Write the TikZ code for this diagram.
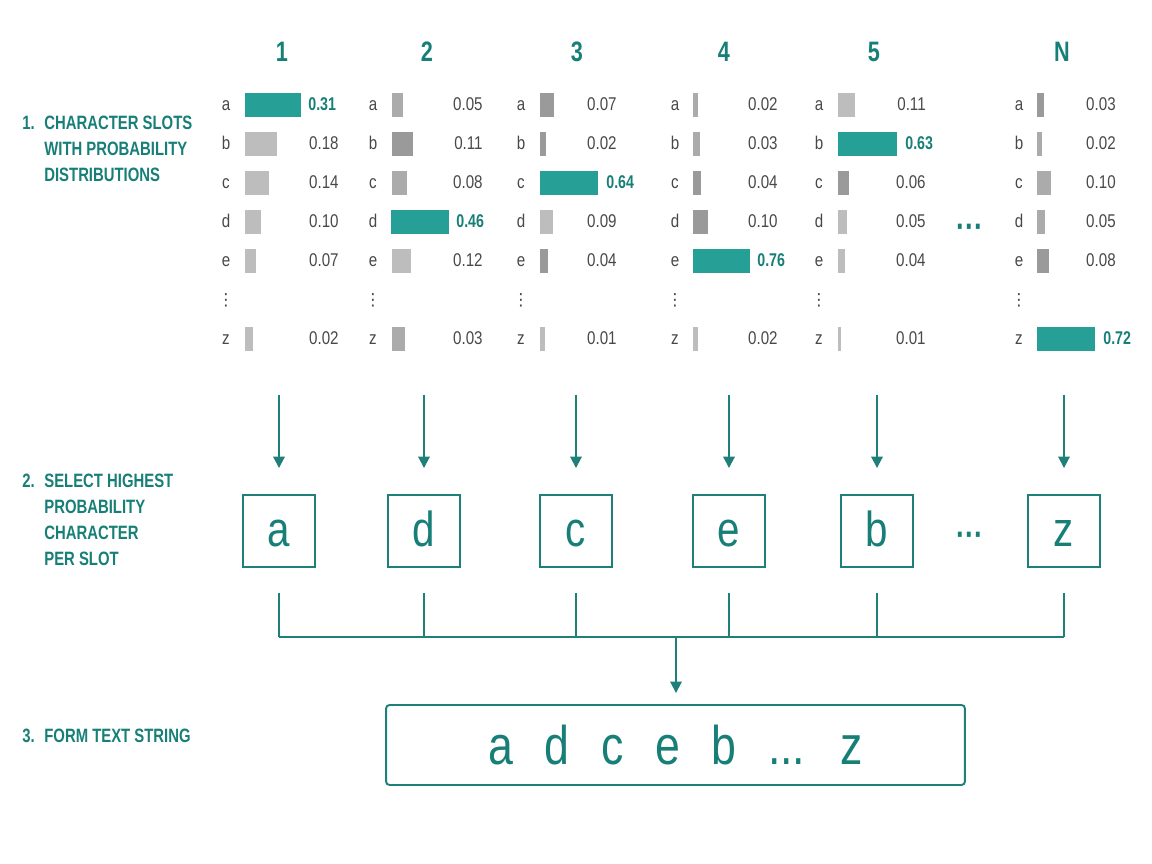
\documentclass[tikz,border=0pt]{standalone}
\usepackage{fontspec}
\setmainfont{Liberation Sans}[FakeStretch=0.82, BoldFeatures={FakeStretch=0.77}]
\newfontfamily\symfont{DejaVu Sans}
\usetikzlibrary{arrows.meta}

\definecolor{tealbar}{HTML}{26A096}
\definecolor{tealtext}{HTML}{177F77}
\definecolor{tealline}{HTML}{1E8079}
\definecolor{inkgrey}{HTML}{484848}
\definecolor{barlight}{HTML}{BDBDBD}
\definecolor{barmid}{HTML}{ABABAB}
\definecolor{bardark}{HTML}{9A9A9A}

\tikzset{
	stagelabel/.style = {anchor = north west, inner sep = 0pt, align = left, text = tealtext,
		font = \fontsize{11}{14.7}\selectfont\bfseries},
	slothead/.style = {text = tealtext, font = \fontsize{16}{18}\selectfont\bfseries},
	letter/.style = {text = inkgrey, inner sep = 0pt, text height = 6.8pt, text depth = 0pt,
		font = \fontsize{10.5}{12}\selectfont},
	prob/.style = {letter, anchor = east},
	best/.style = {letter, anchor = west, text = tealtext, font = \fontsize{10.5}{12}\selectfont\bfseries},
	skip/.style = {text = inkgrey, inner sep = 0pt, font = \fontsize{9.5}{10}\symfont},
	more/.style = {text = tealtext, inner sep = 0pt, font = \fontsize{20}{20}\selectfont\bfseries},
	pick/.style = {draw = tealline, line width = 1.1pt, minimum size = 1.44cm, inner sep = 0pt,
		text = tealtext, text height = 17.6pt, text depth = 0pt, font = \fontsize{28}{30}\selectfont},
	result/.style = {draw = tealline, line width = 1.1pt, rounded corners = 2pt, minimum width = 11.58cm,
		minimum height = 1.6cm, inner sep = 0pt, text = tealtext, text height = 22.7pt, text depth = 0pt,
		font = \fontsize{31}{33}\selectfont},
	flow/.style = {draw = tealline, line width = 1.1pt, -{Triangle[width = 6.5pt, length = 6.5pt]}},
	link/.style = {draw = tealline, line width = 1.1pt}
}

\begin{document}
\begin{tikzpicture}[x = 0.02cm, y = -0.02cm]
	\useasboundingbox (0, 0) rectangle (1152, 864);

	% stage labels
	\node [stagelabel] (n1) at (22, 116) {1.};
	\node [stagelabel] (s1) at (44, 116) {CHARACTER SLOTS\\WITH PROBABILITY\\DISTRIBUTIONS};
	\node [stagelabel] (n2) at (22, 474) {2.};
	\node [stagelabel] (s2) at (44, 474) {SELECT HIGHEST\\PROBABILITY\\CHARACTER\\PER SLOT};
	\node [stagelabel] (n3) at (22, 729) {3.};
	\node [stagelabel] (s3) at (44, 729) {FORM TEXT STRING};

	% slot numbers
	\node [slothead] (h1) at (282, 52) {1};
	\node [slothead] (h2) at (427, 52) {2};
	\node [slothead] (h3) at (577, 52) {3};
	\node [slothead] (h4) at (724, 52) {4};
	\node [slothead] (h5) at (874, 52) {5};
	\node [slothead] (hN) at (1062, 52) {N};

	% slot 1
	\node [letter] (l1a) at (226, 105) {a};
	\fill [tealbar] (245, 93) rectangle +(56, 24);
	\node [best] (v1a) at (308, 105) {0.31};
	\node [letter] (l1b) at (226, 144) {b};
	\fill [barlight] (245, 132) rectangle +(32, 24);
	\node [prob] (v1b) at (339, 144) {0.18};
	\node [letter] (l1c) at (226, 183) {c};
	\fill [barlight] (245, 171) rectangle +(24, 24);
	\node [prob] (v1c) at (339, 183) {0.14};
	\node [letter] (l1d) at (226, 222) {d};
	\fill [barlight] (245, 210) rectangle +(16, 24);
	\node [prob] (v1d) at (339, 222) {0.10};
	\node [letter] (l1e) at (226, 261) {e};
	\fill [barlight] (245, 249) rectangle +(11, 24);
	\node [prob] (v1e) at (339, 261) {0.07};
	\node [skip] (k1) at (226, 300) {⋮};
	\node [letter] (l1z) at (226, 339) {z};
	\fill [barlight] (245, 327) rectangle +(8, 24);
	\node [prob] (v1z) at (339, 339) {0.02};

	% slot 2
	\node [letter] (l2a) at (373, 105) {a};
	\fill [barmid] (392, 93) rectangle +(11, 24);
	\node [prob] (v2a) at (483, 105) {0.05};
	\node [letter] (l2b) at (373, 144) {b};
	\fill [bardark] (392, 132) rectangle +(21, 24);
	\node [prob] (v2b) at (483, 144) {0.11};
	\node [letter] (l2c) at (373, 183) {c};
	\fill [barmid] (392, 171) rectangle +(15, 24);
	\node [prob] (v2c) at (483, 183) {0.08};
	\node [letter] (l2d) at (373, 222) {d};
	\fill [tealbar] (391, 210) rectangle +(58, 24);
	\node [best] (v2d) at (456, 222) {0.46};
	\node [letter] (l2e) at (373, 261) {e};
	\fill [barlight] (392, 249) rectangle +(19, 24);
	\node [prob] (v2e) at (483, 261) {0.12};
	\node [skip] (k2) at (373, 300) {⋮};
	\node [letter] (l2z) at (373, 339) {z};
	\fill [barmid] (392, 327) rectangle +(13, 24);
	\node [prob] (v2z) at (483, 339) {0.03};

	% slot 3
	\node [letter] (l3a) at (521, 105) {a};
	\fill [bardark] (540, 93) rectangle +(14, 24);
	\node [prob] (v3a) at (617, 105) {0.07};
	\node [letter] (l3b) at (521, 144) {b};
	\fill [bardark] (540, 132) rectangle +(6, 24);
	\node [prob] (v3b) at (617, 144) {0.02};
	\node [letter] (l3c) at (521, 183) {c};
	\fill [tealbar] (540, 171) rectangle +(58, 24);
	\node [best] (v3c) at (606, 183) {0.64};
	\node [letter] (l3d) at (521, 222) {d};
	\fill [barlight] (540, 210) rectangle +(13, 24);
	\node [prob] (v3d) at (617, 222) {0.09};
	\node [letter] (l3e) at (521, 261) {e};
	\fill [bardark] (540, 249) rectangle +(8, 24);
	\node [prob] (v3e) at (617, 261) {0.04};
	\node [skip] (k3) at (521, 300) {⋮};
	\node [letter] (l3z) at (521, 339) {z};
	\fill [barlight] (540, 327) rectangle +(5, 24);
	\node [prob] (v3z) at (617, 339) {0.01};

	% slot 4
	\node [letter] (l4a) at (675, 105) {a};
	\fill [barmid] (693, 93) rectangle +(5, 24);
	\node [prob] (v4a) at (778, 105) {0.02};
	\node [letter] (l4b) at (675, 144) {b};
	\fill [barmid] (693, 132) rectangle +(7, 24);
	\node [prob] (v4b) at (778, 144) {0.03};
	\node [letter] (l4c) at (675, 183) {c};
	\fill [bardark] (693, 171) rectangle +(8, 24);
	\node [prob] (v4c) at (778, 183) {0.04};
	\node [letter] (l4d) at (675, 222) {d};
	\fill [bardark] (693, 210) rectangle +(15, 24);
	\node [prob] (v4d) at (778, 222) {0.10};
	\node [letter] (l4e) at (675, 261) {e};
	\fill [tealbar] (693, 249) rectangle +(57, 24);
	\node [best] (v4e) at (757, 261) {0.76};
	\node [skip] (k4) at (675, 300) {⋮};
	\node [letter] (l4z) at (675, 339) {z};
	\fill [barlight] (693, 327) rectangle +(5, 24);
	\node [prob] (v4z) at (778, 339) {0.02};

	% slot 5
	\node [letter] (l5a) at (819, 105) {a};
	\fill [barlight] (838, 93) rectangle +(17, 24);
	\node [prob] (v5a) at (926, 105) {0.11};
	\node [letter] (l5b) at (819, 144) {b};
	\fill [tealbar] (838, 132) rectangle +(59, 24);
	\node [best] (v5b) at (905, 144) {0.63};
	\node [letter] (l5c) at (819, 183) {c};
	\fill [bardark] (838, 171) rectangle +(11, 24);
	\node [prob] (v5c) at (926, 183) {0.06};
	\node [letter] (l5d) at (819, 222) {d};
	\fill [barlight] (838, 210) rectangle +(9, 24);
	\node [prob] (v5d) at (926, 222) {0.05};
	\node [letter] (l5e) at (819, 261) {e};
	\fill [barlight] (838, 249) rectangle +(7, 24);
	\node [prob] (v5e) at (926, 261) {0.04};
	\node [skip] (k5) at (819, 300) {⋮};
	\node [letter] (l5z) at (819, 339) {z};
	\fill [barlight] (838, 327) rectangle +(3, 24);
	\node [prob] (v5z) at (926, 339) {0.01};

	\node [more] (gap1) at (970, 231) {···};

	% slot N
	\node [letter] (lNa) at (1019, 105) {a};
	\fill [bardark] (1037, 93) rectangle +(7, 24);
	\node [prob] (vNa) at (1116, 105) {0.03};
	\node [letter] (lNb) at (1019, 144) {b};
	\fill [barmid] (1037, 132) rectangle +(5, 24);
	\node [prob] (vNb) at (1116, 144) {0.02};
	\node [letter] (lNc) at (1019, 183) {c};
	\fill [barmid] (1037, 171) rectangle +(14, 24);
	\node [prob] (vNc) at (1116, 183) {0.10};
	\node [letter] (lNd) at (1019, 222) {d};
	\fill [barmid] (1037, 210) rectangle +(8, 24);
	\node [prob] (vNd) at (1116, 222) {0.05};
	\node [letter] (lNe) at (1019, 261) {e};
	\fill [bardark] (1037, 249) rectangle +(12, 24);
	\node [prob] (vNe) at (1116, 261) {0.08};
	\node [skip] (kN) at (1019, 300) {⋮};
	\node [letter] (lNz) at (1019, 339) {z};
	\fill [tealbar] (1037, 327) rectangle +(58, 24);
	\node [best] (vNz) at (1103, 339) {0.72};

	% picked characters
	\node [pick] (p1) at (279, 531) {a};
	\node [pick] (p2) at (424, 531) {d};
	\node [pick] (p3) at (576, 531) {c};
	\node [pick] (p4) at (729, 531) {e};
	\node [pick] (p5) at (877, 531) {b};
	\node [more] (gap2) at (970, 539) {···};
	\node [pick] (pN) at (1064, 531) {z};

	\node [result] (R) at (675.5, 745) {a\hspace{18pt}d\hspace{18pt}c\hspace{18pt}e\hspace{18pt}b\hspace{18pt}...\hspace{20pt}z};

	\coordinate (t1) at (279, 395);
	\coordinate (t2) at (424, 395);
	\coordinate (t3) at (576, 395);
	\coordinate (t4) at (729, 395);
	\coordinate (t5) at (877, 395);
	\coordinate (tN) at (1064, 395);
	\coordinate (bus) at (676, 637);

	\draw [flow, shorten > = 0.52cm] (t1) -- (p1.north);
	\draw [flow, shorten > = 0.52cm] (t2) -- (p2.north);
	\draw [flow, shorten > = 0.52cm] (t3) -- (p3.north);
	\draw [flow, shorten > = 0.52cm] (t4) -- (p4.north);
	\draw [flow, shorten > = 0.52cm] (t5) -- (p5.north);
	\draw [flow, shorten > = 0.52cm] (tN) -- (pN.north);

	\draw [link, shorten < = 0.5cm] (p1.south) -- (p1.south |- bus);
	\draw [link, shorten < = 0.5cm] (p2.south) -- (p2.south |- bus);
	\draw [link, shorten < = 0.5cm] (p3.south) -- (p3.south |- bus);
	\draw [link, shorten < = 0.5cm] (p4.south) -- (p4.south |- bus);
	\draw [link, shorten < = 0.5cm] (p5.south) -- (p5.south |- bus);
	\draw [link, shorten < = 0.5cm] (pN.south) -- (pN.south |- bus);
	\draw [link] (p1.south |- bus) -- (pN.south |- bus);

	\draw [flow, shorten > = 0.22cm] (bus) -- (bus |- R.north);
\end{tikzpicture}
\end{document}
